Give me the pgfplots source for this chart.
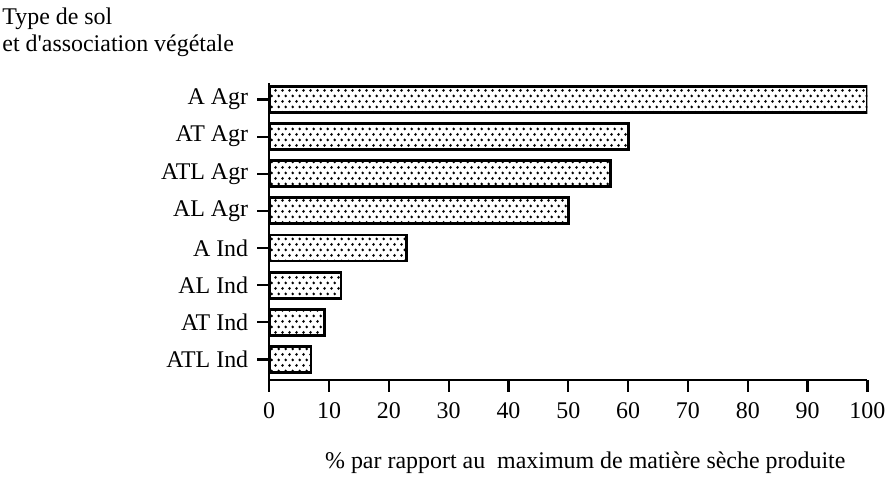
\documentclass[border=0pt]{standalone}
\usepackage{pgfplots}
\pgfplotsset{compat=1.18}
\usepackage{fontspec}
\setmainfont{Liberation Serif}
\usetikzlibrary{patterns}
\pgfdeclarepatternformonly{refdots}{\pgfqpoint{0pt}{0pt}}{\pgfqpoint{3.35pt}{5.5pt}}{\pgfqpoint{3.35pt}{5.5pt}}{%
  \pgfpathcircle{\pgfqpoint{0.8pt}{0.8pt}}{0.72pt}%
  \pgfpathcircle{\pgfqpoint{2.475pt}{3.55pt}}{0.72pt}%
  \pgfusepath{fill}}
\begin{document}
\begin{tikzpicture}[font=\fontsize{12}{13.5}\selectfont]
\begin{axis}[name=ax, at={(0,0)}, anchor=south west,
  scale only axis, width=300pt, height=149pt,
  xbar, bar width=0.7,
  xmin=0, xmax=100, ymin=0.45, ymax=8.45,
  axis x line*=bottom, axis y line*=left,
  axis line style={-, line width=1.1pt},
  tick align=outside, major tick length=6pt,
  tick style={line width=1.1pt, black},
  xtick={0,10,...,100},
  ytick={1,...,8},
  yticklabels={ATL Ind, AT Ind, AL Ind, A Ind, AL Agr, ATL Agr, AT Agr, A Agr},
  /pgf/number format/assume math mode=true,
  tick label style={font=\fontsize{12}{13.5}\selectfont},
  xticklabel style={yshift=-2pt},
  yticklabel style={xshift=-1pt},
  ]
\addplot[draw=black, line width=1.4pt, pattern=refdots]
  coordinates {(7,1) (9.3,2) (12,3) (23,4) (50,5) (57,6) (60,7) (100,8)};
\end{axis}
\node[anchor=base west, inner sep=0] at ([xshift=-134pt, yshift=29pt]ax.north west) {Type de sol};
\node[anchor=base west, inner sep=0] at ([xshift=-134pt, yshift=15.5pt]ax.north west) {et d\textquotesingle association végétale};
\node[anchor=base, inner sep=0] at ([xshift=158.5pt, yshift=-44.5pt]ax.south west) {\% par rapport au\ \ maximum de matière sèche produite};
\useasboundingbox ([xshift=-135pt, yshift=-48.5pt]ax.south west) rectangle ++(446pt,239pt);
\end{tikzpicture}
\end{document}
